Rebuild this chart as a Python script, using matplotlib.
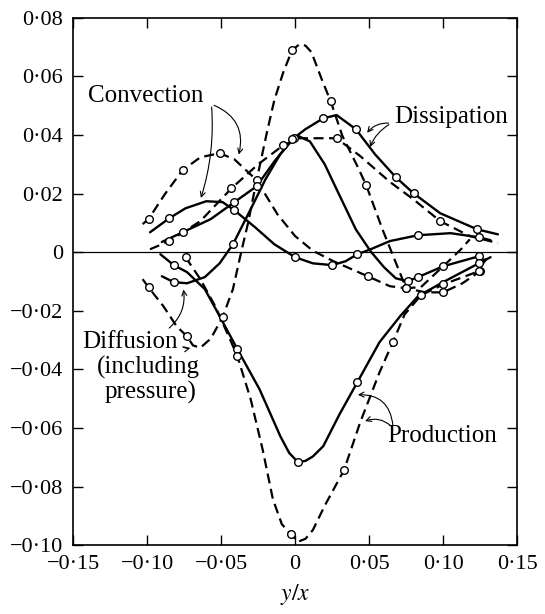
import matplotlib
matplotlib.use("Agg")
import matplotlib.pyplot as plt

plt.rcParams['font.family'] = ['Liberation Serif', 'DejaVu Serif']
plt.rcParams['mathtext.fontset'] = 'stix'

# --- Convection ---
conv_solid_x = [-0.098, -0.085, -0.074, -0.060, -0.049, -0.041, -0.027, -0.014, 0.000, 0.012, 0.025, 0.034, 0.042, 0.051, 0.064, 0.083, 0.105, 0.124, 0.132]
conv_solid_y = [0.0068, 0.0116, 0.0150, 0.0174, 0.0171, 0.0143, 0.0085, 0.0027, -0.0017, -0.0038, -0.0044, -0.0031, -0.0007, 0.0010, 0.0038, 0.0058, 0.0065, 0.0051, 0.0041]
conv_solid_px = [-0.085, -0.041, 0.000, 0.025, 0.042, 0.083, 0.124]
conv_solid_py = [0.0116, 0.0143, -0.0017, -0.0044, -0.0007, 0.0058, 0.0051]

conv_dash_x = [-0.103, -0.099, -0.088, -0.076, -0.064, -0.051, -0.041, -0.026, -0.012, 0.000, 0.012, 0.026, 0.049, 0.064, 0.075, 0.088, 0.100, 0.113, 0.125]
conv_dash_y = [0.0096, 0.0113, 0.0198, 0.0280, 0.0324, 0.0338, 0.0317, 0.0246, 0.0130, 0.0055, 0.0005, -0.0031, -0.0082, -0.0116, -0.0123, -0.0137, -0.0137, -0.0106, -0.0065]
conv_dash_px = [-0.099, -0.076, -0.051, -0.026, 0.049, 0.075, 0.100, 0.125]
conv_dash_py = [0.0113, 0.0280, 0.0338, 0.0246, -0.0082, -0.0123, -0.0137, -0.0065]

# --- Dissipation ---
diss_solid_x = [-0.090, -0.076, -0.057, -0.041, -0.026, -0.014, -0.001, 0.007, 0.019, 0.028, 0.041, 0.054, 0.068, 0.080, 0.098, 0.123, 0.137]
diss_solid_y = [0.0035, 0.0068, 0.0113, 0.0171, 0.0225, 0.0310, 0.0389, 0.0420, 0.0457, 0.0468, 0.0420, 0.0334, 0.0256, 0.0201, 0.0133, 0.0078, 0.0061]
diss_solid_px = [-0.076, -0.041, -0.026, -0.001, 0.019, 0.041, 0.068, 0.080, 0.123]
diss_solid_py = [0.0068, 0.0171, 0.0225, 0.0389, 0.0457, 0.0420, 0.0256, 0.0201, 0.0078]

diss_dash_x = [-0.098, -0.085, -0.064, -0.043, -0.025, -0.008, 0.003, 0.017, 0.028, 0.044, 0.064, 0.080, 0.098, 0.118, 0.137]
diss_dash_y = [0.0010, 0.0038, 0.0106, 0.0218, 0.0300, 0.0365, 0.0389, 0.0389, 0.0389, 0.0328, 0.0240, 0.0180, 0.0106, 0.0055, 0.0031]
diss_dash_px = [-0.085, -0.043, -0.008, 0.028, 0.098]
diss_dash_py = [0.0038, 0.0218, 0.0365, 0.0389, 0.0106]

# --- Diffusion (including pressure) ---
diff_solid_x = [-0.090, -0.082, -0.073, -0.061, -0.051, -0.042, -0.030, -0.020, -0.010, -0.002, 0.002, 0.010, 0.020, 0.028, 0.041, 0.051, 0.060, 0.068, 0.076, 0.083, 0.100, 0.124]
diff_solid_y = [-0.0082, -0.0102, -0.0106, -0.0085, -0.0038, 0.0027, 0.0147, 0.0249, 0.0335, 0.0385, 0.0397, 0.0378, 0.0300, 0.0215, 0.0078, 0.0003, -0.0051, -0.0089, -0.0099, -0.0085, -0.0048, -0.0014]
diff_solid_px = [-0.082, -0.042, -0.002, 0.076, 0.083, 0.100, 0.124]
diff_solid_py = [-0.0102, 0.0027, 0.0385, -0.0099, -0.0085, -0.0048, -0.0014]

diff_dash_x = [-0.103, -0.099, -0.089, -0.080, -0.073, -0.069, -0.064, -0.057, -0.049, -0.042, -0.036, -0.032, -0.026, -0.019, -0.014, -0.008, -0.002, 0.003, 0.007, 0.011, 0.018, 0.024, 0.032, 0.042, 0.048, 0.059, 0.069, 0.075, 0.085, 0.100, 0.112, 0.118]
diff_dash_y = [-0.0092, -0.0120, -0.0184, -0.0253, -0.0287, -0.0318, -0.0326, -0.0295, -0.0222, -0.0126, 0.0010, 0.0095, 0.0245, 0.0410, 0.0520, 0.0614, 0.0690, 0.0710, 0.0705, 0.0683, 0.0590, 0.0515, 0.0396, 0.0294, 0.0229, 0.0078, -0.0048, -0.0123, -0.0119, -0.0048, 0.0010, 0.0044]
diff_dash_px = [-0.099, -0.073, -0.049, -0.002, 0.024, 0.048, 0.075]
diff_dash_py = [-0.0120, -0.0287, -0.0222, 0.0690, 0.0515, 0.0229, -0.0123]

# --- Production ---
prod_solid_x = [-0.091, -0.082, -0.073, -0.061, -0.051, -0.039, -0.024, -0.010, -0.004, 0.002, 0.007, 0.012, 0.019, 0.030, 0.042, 0.057, 0.071, 0.083, 0.100, 0.124, 0.132]
prod_solid_y = [-0.0007, -0.0044, -0.0068, -0.0126, -0.0218, -0.0331, -0.0468, -0.0628, -0.0685, -0.0717, -0.0712, -0.0697, -0.0662, -0.0553, -0.0444, -0.0307, -0.0218, -0.0150, -0.0102, -0.0038, -0.0017]
prod_solid_px = [-0.082, -0.039, 0.002, 0.042, 0.124]
prod_solid_py = [-0.0044, -0.0331, -0.0717, -0.0444, -0.0038]

prod_dash_x = [-0.074, -0.064, -0.054, -0.044, -0.039, -0.030, -0.022, -0.015, -0.009, -0.003, 0.002, 0.007, 0.012, 0.020, 0.033, 0.044, 0.057, 0.066, 0.074, 0.085, 0.100, 0.124]
prod_dash_y = [-0.0017, -0.0092, -0.0184, -0.0297, -0.0355, -0.0502, -0.0672, -0.0843, -0.0928, -0.0962, -0.0988, -0.0978, -0.0948, -0.0865, -0.0744, -0.0580, -0.0410, -0.0307, -0.0212, -0.0147, -0.0110, -0.0065]
prod_dash_px = [-0.074, -0.039, -0.003, 0.033, 0.066, 0.085, 0.100, 0.124]
prod_dash_py = [-0.0017, -0.0355, -0.0962, -0.0744, -0.0307, -0.0147, -0.0110, -0.0065]

x_ticks = [-0.15, -0.10, -0.05, 0, 0.05, 0.10, 0.15]
x_tick_labels = ['\u22120\u00b715', '\u22120\u00b710', '\u22120\u00b705', '0', '0\u00b705', '0\u00b710', '0\u00b715']
y_ticks = [0.08, 0.06, 0.04, 0.02, 0, -0.02, -0.04, -0.06, -0.08, -0.10]
y_tick_labels = ['0\u00b708', '0\u00b706', '0\u00b704', '0\u00b702', '0', '\u22120\u00b702',
                 '\u22120\u00b704', '\u22120\u00b706', '\u22120\u00b708', '\u22120\u00b710']

fig = plt.figure(figsize=(5.45, 6.14), dpi=100)
ax = fig.add_axes([0.134, 0.112, 0.815, 0.859])

dash = (0, (4.5, 2.5))
solid_kw = dict(color='black', lw=1.7, solid_capstyle='round', solid_joinstyle='round')
dash_kw = dict(color='black', lw=1.6, linestyle=dash)
mk_kw = dict(linestyle='none', marker='o', ms=5.5, mfc='white', mec='black', mew=1.0, zorder=5)

ax.axhline(0, color='black', lw=0.9)

curves = [
    (conv_solid_x, conv_solid_y, conv_solid_px, conv_solid_py, solid_kw),
    (conv_dash_x, conv_dash_y, conv_dash_px, conv_dash_py, dash_kw),
    (diss_solid_x, diss_solid_y, diss_solid_px, diss_solid_py, solid_kw),
    (diss_dash_x, diss_dash_y, diss_dash_px, diss_dash_py, dash_kw),
    (diff_solid_x, diff_solid_y, diff_solid_px, diff_solid_py, solid_kw),
    (diff_dash_x, diff_dash_y, diff_dash_px, diff_dash_py, dash_kw),
    (prod_solid_x, prod_solid_y, prod_solid_px, prod_solid_py, solid_kw),
    (prod_dash_x, prod_dash_y, prod_dash_px, prod_dash_py, dash_kw),
]
for cx, cy, px, py, kw in curves:
    ax.plot(cx, cy, **kw)
    ax.plot(px, py, **mk_kw)

# small arrowhead at the end of the solid production curve
ax.annotate('', xy=(prod_solid_x[-1], prod_solid_y[-1]), xytext=(prod_solid_x[-2], prod_solid_y[-2]),
            arrowprops=dict(arrowstyle='-|>', color='black', lw=1.2, mutation_scale=10))

# labels with curved pointers
lbl = dict(fontsize=18, color='black')
arr = dict(arrowstyle='->', color='black', lw=0.8, mutation_scale=9)

ax.text(-0.1007, 0.0532, 'Convection', ha='center', va='center', **lbl)
ax.annotate('', xy=(-0.0385, 0.0324), xytext=(-0.0565, 0.0505),
            arrowprops=dict(connectionstyle='arc3,rad=-0.45', **arr))
ax.annotate('', xy=(-0.0642, 0.0176), xytext=(-0.0565, 0.0505),
            arrowprops=dict(connectionstyle='arc3,rad=-0.1', **arr))

ax.text(0.1054, 0.0461, 'Dissipation', ha='center', va='center', **lbl)
ax.annotate('', xy=(0.0475, 0.0400), xytext=(0.0650, 0.0440),
            arrowprops=dict(connectionstyle='arc3,rad=0.3', **arr))
ax.annotate('', xy=(0.0500, 0.0350), xytext=(0.0650, 0.0440),
            arrowprops=dict(connectionstyle='arc3,rad=0.2', **arr))

ax.text(-0.1115, -0.0307, 'Diffusion', ha='center', va='center', **lbl)
ax.text(-0.0993, -0.0392, '(including', ha='center', va='center', **lbl)
ax.text(-0.0980, -0.0478, 'pressure)', ha='center', va='center', **lbl)
ax.annotate('', xy=(-0.0757, -0.0118), xytext=(-0.0865, -0.0265),
            arrowprops=dict(connectionstyle='arc3,rad=0.3', **arr))
ax.annotate('', xy=(-0.0690, -0.0324), xytext=(-0.0775, -0.0318),
            arrowprops=dict(connectionstyle='arc3,rad=0.3', **arr))

ax.text(0.0993, -0.0628, 'Production', ha='center', va='center', **lbl)
ax.annotate('', xy=(0.0405, -0.0487), xytext=(0.0662, -0.0600),
            arrowprops=dict(connectionstyle='arc3,rad=0.5', **arr))
ax.annotate('', xy=(0.0455, -0.0580), xytext=(0.0662, -0.0600),
            arrowprops=dict(connectionstyle='arc3,rad=0.35', **arr))

ax.set_xlim(-0.15, 0.15)
ax.set_ylim(-0.10, 0.08)
ax.set_xticks(x_ticks)
ax.set_xticklabels(x_tick_labels)
ax.set_yticks(y_ticks)
ax.set_yticklabels(y_tick_labels)
ax.tick_params(direction='in', length=7, width=1.0, top=True, right=True,
               labelsize=16, pad=7)
for s in ax.spines.values():
    s.set_linewidth(1.2)
ax.set_xlabel('$y/x$', fontsize=17, labelpad=6)

fig.savefig('out.png', dpi=100)
